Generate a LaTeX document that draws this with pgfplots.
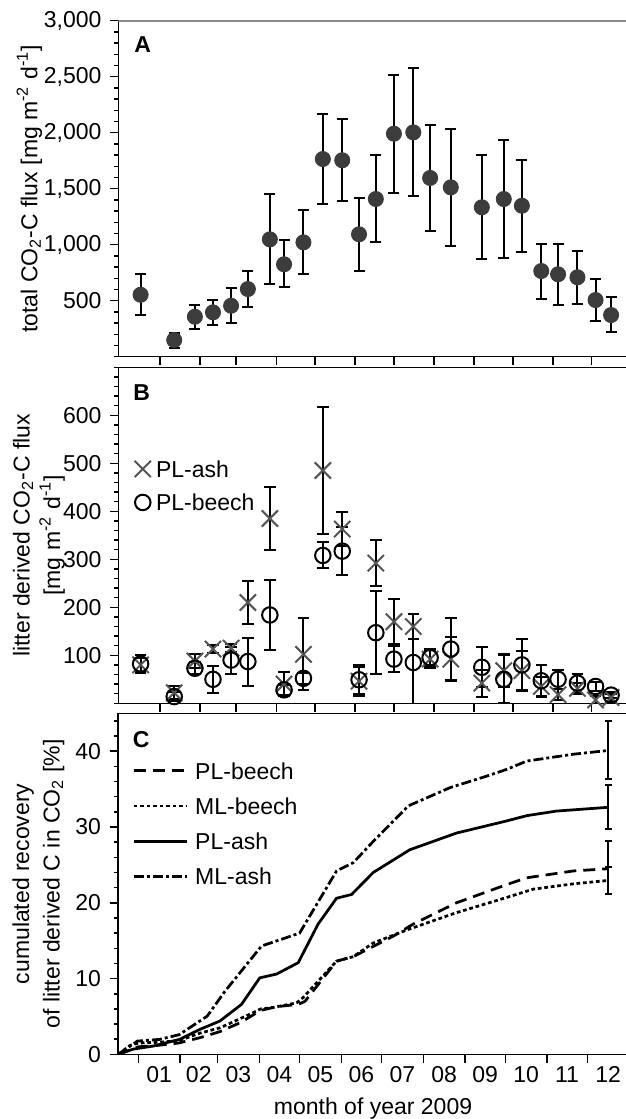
\documentclass[border=0pt]{standalone}
\usepackage{fontspec}
\setmainfont{Liberation Sans}
\usepackage{pgfplots}
\pgfplotsset{compat=1.18}
\usepackage{pgfplotstable}
\definecolor{markgray}{HTML}{3C3C3C}
\definecolor{xgray}{HTML}{555555}
\definecolor{topgray}{HTML}{8A8A8A}

% Panel A: total CO2-C flux (day of year 2009, value, error plus, error minus)
\pgfplotstableread{
d y ep em
-15 553 183 178
11 149 63 69
27 357 102 107
41 396 110 110
55 455 158 157
68 604 161 163
85 1048 402 399
96 825 214 205
111 1021 289 285
126 1765 402 399
141 1754 368 364
154 1093 324 325
167 1408 390 384
181 1991 527 527
196 2003 578 571
209 1596 473 474
225 1512 521 521
249 1334 467 464
266 1408 524 524
280 1348 411 410
295 765 244 247
308 736 273 277
323 709 238 236
337 506 188 187
349 372 164 154
}\tabA

% Panel B: litter derived CO2-C flux
\pgfplotstableread{
d ash ashe beech beeche
-15 80 15 82 18
11 22 14 14 10
27 88 15 73 12
41 113 8 50 28
55 115 8 90 28
68 210 45 87 50
85 385 65 184 73
96 40 25 28 10
111 102 75 52 12
126 485 133 308 27
141 363 35 317 50
154 46 30 49 30
167 292 48 147 87
181 170 47 92 27
196 160 27 85 100
209 92 18 95 18
225 92 46 113 64
249 42 28 75 42
266 68 35 50 50
280 68 40 80 54
295 35 20 47 33
308 18 12 50 20
323 31 12 42 20
337 7 8 35 10
349 12 7 17 7
}\tabB

% Panel C: cumulated recovery [%]
\pgfplotstableread{
d y
-15 0
-3.6 0.7
11.2 1.1
31 2.0
45.8 3.3
60.7 4.4
76.8 6.6
90.4 10.1
102.9 10.6
119 12.1
133.8 17.2
147.5 20.6
158.7 21.1
174.8 24.0
202 27.0
236.7 29.2
274 30.8
289 31.5
311 32.1
349.6 32.6
}\tabPLash

\pgfplotstableread{
d y
-15 0
-0.6 1.76
15.8 1.98
30.4 2.6
51.3 5.05
64.6 8.35
91.7 14.3
120 16.0
147.5 24.2
160 25.3
174.8 28.1
201 32.8
232 35.2
259 36.7
274 37.6
289 38.7
323.5 39.6
349.6 40.1
}\tabMLash

\pgfplotstableread{
d y
-15 0
0 1.0
15 1.2
30 1.5
45.8 2.2
60.7 3.0
76 4.2
91 5.8
103 6.3
119 6.6
124 7.0
147.5 12.3
160 12.9
189.7 15.6
204.6 17.2
236.7 20.0
274 22.4
289 23.3
323.5 24.2
349.6 24.5
}\tabPLbeech

\pgfplotstableread{
d y
-15 0
-6 1.2
0 1.5
15 1.6
30 1.8
45.8 2.8
60.7 3.5
83 5.3
91 6.0
100.5 6.2
117.8 6.8
122.6 7.5
147.5 12.3
160 12.9
174.8 14.7
201 16.5
236.7 18.7
274 20.7
293.8 21.8
323.5 22.5
349.6 22.95
}\tabMLbeech

\pgfplotsset{
  panel/.style={
    scale only axis,
    tick align=outside, tick pos=left,
    major tick length=3.3pt, minor tick length=1.6pt,
    axis line style={line width=0.6pt},
    tick style={black, line width=0.6pt},
    /pgf/number format/assume math mode=true,
    font=\fontsize{9.2}{9.8}\selectfont,
    scaled y ticks=false,
    ylabel style={align=center, font=\fontsize{9.2}{12.2}\selectfont},
  },
  ebars/.style={error bars/.cd, y dir=both, y explicit,
    error bar style={draw=black, solid, line width=0.8pt},
    error mark=-,
    error mark options={rotate=90, draw=black, solid, mark size=#1, line width=0.8pt}},
}

\begin{document}
\begin{tikzpicture}
\useasboundingbox (0pt,0pt) rectangle (250pt,-447.6pt);

% ---------------- Panel A ----------------
\begin{axis}[panel, at={(47.4pt,-8.28pt)}, anchor=north west,
  width=203.8pt, height=134.4pt,
  xmin=-32.1, xmax=362.1, ymin=0, ymax=3000,
  xtick={0,31,59,90,120,151,181,212,243,273,304,334}, xticklabels={},
  ytick={500,1000,...,3000}, minor ytick={0,100,...,3000},
  /pgf/number format/1000 sep={,},
  ylabel={total CO\textsubscript{2}-C flux [mg m\textsuperscript{-2} d\textsuperscript{-1}]},
  ylabel style={at={(axis description cs:-0.175,0.5)}, anchor=center},
]
\addplot[only marks, mark=*, mark size=3pt, mark options={fill=markgray, draw=markgray},
  ebars=2.2pt]
  table[x=d, y=y, y error plus=ep, y error minus=em] {\tabA};
\draw[topgray, line width=0.7pt] (rel axis cs:0,1) -- (rel axis cs:1,1);
\node[font=\bfseries\fontsize{9.2}{10}\selectfont] at (axis description cs:0.0475,0.928) {A};
\end{axis}

% ---------------- Panel B ----------------
\begin{axis}[panel, at={(47.4pt,-146.92pt)}, anchor=north west,
  width=203.8pt, height=134.4pt,
  xmin=-32.1, xmax=362.1, ymin=0, ymax=700,
  xtick={0,31,59,90,120,151,181,212,243,273,304,334}, xticklabels={},
  ytick={100,200,...,600}, minor ytick={0,20,...,700},
  ylabel={litter derived CO\textsubscript{2}-C flux\\{}[mg m\textsuperscript{-2} d\textsuperscript{-1}]},
  ylabel style={at={(axis description cs:-0.156,0.5)}, anchor=center},
  legend image code/.code={\draw[#1] plot coordinates {(0pt,0pt)}; \path (-3.4pt,0pt) (4.6pt,0pt);},
  legend style={at={(axis description cs:0.029,0.728)}, anchor=north west,
    draw=none, fill=none, inner sep=0pt, row sep=5.6pt,
    nodes={inner sep=0.5pt, text height=6.8pt, text depth=0pt},
    font=\fontsize{9.2}{9.8}\selectfont},
  legend cell align=left,
]
\addlegendimage{only marks, mark=x, mark size=4.6pt, mark options={xgray, line width=0.8pt}}
\addlegendentry{PL-ash}
\addlegendimage{only marks, mark=o, mark size=3.1pt, mark options={black, line width=0.8pt}}
\addlegendentry{PL-beech}
\addplot[forget plot, only marks, mark=x, mark size=4.6pt, mark options={xgray, line width=0.8pt},
  ebars=2.3pt]
  table[x=d, y=ash, y error=ashe] {\tabB};
\addplot[forget plot, only marks, mark=o, mark size=3.1pt, mark options={black, line width=0.8pt},
  ebars=2.3pt]
  table[x=d, y=beech, y error=beeche] {\tabB};
\node[font=\bfseries\fontsize{9.2}{10}\selectfont] at (axis description cs:0.0455,0.924) {B};
\end{axis}

% ---------------- Panel C ----------------
\begin{axis}[panel, at={(47.24pt,-285.32pt)}, anchor=north west,
  width=203.96pt, height=136.44pt,
  xmin=-15, xmax=364.3, ymin=0, ymax=45,
  xtick={0,31,59,90,120,151,181,212,243,273,304,334}, xticklabels={},
  extra x ticks={15.5,45,74.5,105,135.5,166,196.5,227.5,258,288.5,319,349.5},
  extra x tick labels={01,02,03,04,05,06,07,08,09,10,11,12},
  extra x tick style={tick style={draw=none}, xticklabel style={yshift=2pt}},
  ytick={0,10,...,40}, minor ytick={0,2,...,44},
  xlabel={month of year 2009},
  xlabel style={at={(axis description cs:0.5,-0.158)}, anchor=center},
  ylabel={cumulated recovery\\of litter derived C in CO\textsubscript{2} [\%]},
  ylabel style={at={(axis description cs:-0.156,0.5)}, anchor=center},
  legend image code/.code={\draw[#1] (0pt,0pt) -- (21.2pt,0pt); \path (23.6pt,0pt);},
  legend style={at={(axis description cs:0.0267,0.862)}, anchor=north west,
    draw=none, fill=none, inner sep=0pt, row sep=6.3pt,
    nodes={inner sep=0.5pt, text height=6.8pt, text depth=0pt},
    font=\fontsize{9.2}{9.8}\selectfont},
  legend cell align=left,
]
\addplot[black, line width=1.1pt, dash pattern=on 4.8pt off 2.8pt] table[x=d,y=y] {\tabPLbeech};
\addlegendentry{PL-beech}
\addplot[black, line width=1.1pt, dash pattern=on 1.5pt off 1.1pt] table[x=d,y=y] {\tabMLbeech};
\addlegendentry{ML-beech}
\addplot[black, line width=1.1pt] table[x=d,y=y] {\tabPLash};
\addlegendentry{PL-ash}
\addplot[black, line width=1.1pt, dash pattern=on 4pt off 1.2pt on 1.2pt off 1.2pt] table[x=d,y=y] {\tabMLash};
\addlegendentry{ML-ash}
\addplot[forget plot, draw=none, no markers, ebars=1.4pt]
  coordinates {
    (349.6,40.1) += (0,3.9) -= (0,3.8)
    (349.6,32.6) += (0,3.0) -= (0,2.8)
    (349.6,24.5) += (0,3.6) -= (0,3.3)
    (349.6,22.95) += (0,1.75) -= (0,1.75)
  };
\node[font=\bfseries\fontsize{9.2}{10}\selectfont] at (axis description cs:0.0455,0.922) {C};
\end{axis}
\end{tikzpicture}
\end{document}
